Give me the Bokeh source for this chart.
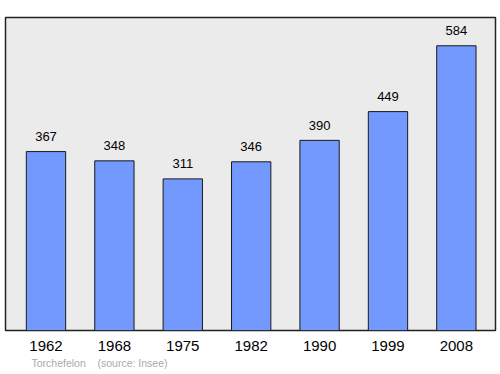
from bokeh.plotting import figure
from bokeh.models import ColumnDataSource, Range1d, FixedTicker, Title
from bokeh.core.properties import value
from bokeh.embed import file_html
from bokeh.resources import INLINE

years = ["1962", "1968", "1975", "1982", "1990", "1999", "2008"]
population = [367, 348, 311, 346, 390, 449, 584]
commune = "Torchefelon"
source_note = "(source: Insee)"

xs = list(range(len(years)))
src = ColumnDataSource(dict(x=xs, top=population, label=[str(v) for v in population]))

p = figure(width=500, height=374, output_backend="svg", toolbar_location=None,
           x_range=Range1d(-0.592, 6.572), y_range=Range1d(0, 642),
           min_border_left=5, min_border_right=5, min_border_top=17, min_border_bottom=44)
p.background_fill_color = "#ebebeb"
p.border_fill_color = "white"
p.outline_line_color = "#222222"
p.outline_line_width = 1.5
p.grid.visible = False
p.yaxis.visible = False

p.vbar(x="x", top="top", bottom=0, width=0.575, source=src,
       fill_color="#7399ff", line_color="#1a1a1a", line_width=1)
p.text(x="x", y="top", text="label", source=src, text_align="center",
       text_baseline="middle", y_offset=-15, text_font=value("Liberation Sans"),
       text_font_size="13px", text_color="black")

ax = p.xaxis[0]
ax.ticker = FixedTicker(ticks=xs)
ax.major_label_overrides = {i: y for i, y in enumerate(years)}
ax.axis_line_color = None
ax.major_tick_line_color = None
ax.minor_tick_line_color = None
ax.major_tick_out = 0
ax.major_tick_in = 0
ax.major_label_standoff = 10
ax.major_label_text_font = "Liberation Sans"
ax.major_label_text_font_size = "15px"
ax.major_label_text_color = "black"

foot = Title(text=commune + "\u00a0" * 4 + source_note, align="left", offset=26,
             text_font="Liberation Sans", text_font_size="10.5px",
             text_font_style="normal", text_color="#aaaaaa", standoff=3)
p.add_layout(foot, "below")

open("out.html", "w").write(file_html(p, INLINE))
